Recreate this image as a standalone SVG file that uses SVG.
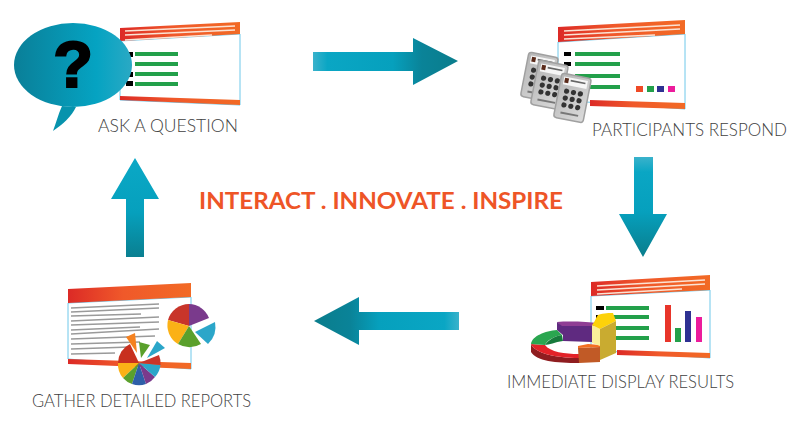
<svg xmlns="http://www.w3.org/2000/svg" width="800" height="428" viewBox="0 0 800 428">
<style>
.lab{font-family:"Lato","Liberation Sans",sans-serif;font-size:18.500px;fill:#3f3f3f;font-weight:300}
.bar{fill:#23a04a}
.k{fill:#000}
.scr{fill:#fff;stroke:#6fc8ea;stroke-width:1}
.ln{fill:none;stroke:#fbe3d4;stroke-width:1.3}
.gl{fill:none;stroke:#9a9a9a;stroke-width:1.4}
</style>
<defs>
<linearGradient id="band"><stop offset="0" stop-color="#dc2a26"/><stop offset="0.45" stop-color="#f0592a"/><stop offset="1" stop-color="#f26a25"/></linearGradient>
<linearGradient id="ar"><stop offset="0" stop-color="#3ab2cb"/><stop offset="0.1" stop-color="#0aa6c4"/><stop offset="0.55" stop-color="#06a0bd"/><stop offset="0.75" stop-color="#0a8398"/><stop offset="1" stop-color="#0a7d8c"/></linearGradient>
<linearGradient id="arL" x1="1" x2="0" y1="0" y2="0"><stop offset="0" stop-color="#3ab2cb"/><stop offset="0.1" stop-color="#0aa6c4"/><stop offset="0.55" stop-color="#06a0bd"/><stop offset="0.75" stop-color="#0a8398"/><stop offset="1" stop-color="#0a7d8c"/></linearGradient>
<linearGradient id="arD" x1="0" x2="0" y1="0" y2="1"><stop offset="0" stop-color="#3ab2cb"/><stop offset="0.15" stop-color="#0aa6c4"/><stop offset="0.55" stop-color="#06a0bd"/><stop offset="1" stop-color="#0a7d8c"/></linearGradient>
<linearGradient id="arU" x1="0" x2="0" y1="0" y2="1"><stop offset="0" stop-color="#0aa8c6"/><stop offset="0.55" stop-color="#06a0bd"/><stop offset="1" stop-color="#0a7f90"/></linearGradient>
<linearGradient id="bub"><stop offset="0" stop-color="#0a7f98"/><stop offset="0.7" stop-color="#05a3c2"/><stop offset="1" stop-color="#2aa9c4"/></linearGradient>
<linearGradient id="cl" x1="0" x2="1" y1="0" y2="1"><stop offset="0" stop-color="#b5b5b5"/><stop offset="1" stop-color="#dcdcdc"/></linearGradient>
<g id="clicker"><rect width="30" height="45" rx="3" fill="url(#cl)" stroke="#a0a0a0" stroke-width="1.5"/><rect x="3" y="3" width="24" height="8" fill="#f6f6f6"/><rect x="4" y="4" width="4" height="5" fill="#5a2a1a"/><rect x="10" y="5" width="15" height="1.6" fill="#666"/><g fill="#333"><circle cx="8" cy="17" r="2.6"/><circle cx="15" cy="17" r="2.6"/><circle cx="22" cy="17" r="2.6"/><circle cx="8" cy="24" r="2.6"/><circle cx="15" cy="24" r="2.6"/><circle cx="22" cy="24" r="2.6"/><circle cx="8" cy="31" r="2.6"/><circle cx="15" cy="31" r="2.6"/><circle cx="22" cy="31" r="2.6"/></g><rect x="6" y="38" width="18" height="2" fill="#777"/></g>
</defs>

<g id="connectors">
<path d="M313 52H413V38L458 61L413 85V71H313Z" fill="url(#ar)"/>
<path d="M634 157V214H619L643 257L667 214H653V157Z" fill="url(#arD)"/>
<path d="M459 312V330H359V345L314 321L359 297V312Z" fill="url(#arL)"/>
<path d="M126 257V199H111L135 158L159 199H144V257Z" fill="url(#arU)"/>
</g>

<g id="node-ask">
<polygon class="scr" points="120,41 240,34 240,105 120,100"/>
<polygon points="120,28 240,22 240,34 120,41" fill="url(#band)"/>
<polygon points="120,96 240,100 240,105 120,100" fill="url(#band)"/>
<path class="ln" d="M125 31L235 26M125 35L235 30M125 40L212 35"/>
<g class="bar"><rect x="135" y="52" width="43" height="4"/><rect x="135" y="62" width="43" height="4"/><rect x="135" y="72" width="43" height="4"/><rect x="135" y="82" width="43" height="4"/></g>
<rect class="k" x="126" y="52" width="7" height="5"/><rect class="k" x="126" y="72" width="7" height="5"/><rect class="k" x="126" y="81" width="7" height="5"/>
<path d="M62 106C58 115 56 123 53 131C62 125 72 116 76 107Z" fill="#0793ad"/>
<ellipse cx="73" cy="65" rx="59" ry="42" fill="url(#bub)"/>
<text x="73" y="87" text-anchor="middle" font-family="'Liberation Sans',sans-serif" font-weight="700" font-size="65" fill="#000" stroke="#000" stroke-width="2.2">?</text>
<text class="lab" x="98" y="132" textLength="140" lengthAdjust="spacingAndGlyphs">ASK A QUESTION</text>
</g>

<g id="node-respond">
<polygon class="scr" points="558,42 685,34 685,109 558,100"/>
<polygon points="558,27 685,20 685,34 558,42" fill="url(#band)"/>
<polygon points="590,100 685,103 685,109 590,106" fill="url(#band)"/>
<path class="ln" d="M564 31L680 25M564 35L680 29M564 39L655 35"/>
<g class="bar"><rect x="575" y="52" width="45" height="4"/><rect x="575" y="62" width="45" height="4"/><rect x="575" y="74" width="45" height="4"/><rect x="575" y="85" width="45" height="4"/></g>
<rect class="k" x="564" y="52" width="7" height="4"/><rect class="k" x="564" y="62" width="7" height="4"/>
<rect x="636" y="86" width="7" height="6" fill="#ef4a26"/><rect x="647" y="86" width="7" height="6" fill="#23a04a"/><rect x="657" y="86" width="7" height="6" fill="#2e3192"/><rect x="668" y="86" width="7" height="6" fill="#ec1c9c"/>
<use href="#clicker" transform="translate(529,52) rotate(11)"/>
<use href="#clicker" transform="translate(539,60) rotate(11)"/>
<use href="#clicker" transform="translate(562,73) rotate(11)"/>
<text class="lab" style="font-size:17.500px" x="592" y="136" textLength="195" lengthAdjust="spacingAndGlyphs">PARTICIPANTS RESPOND</text>
</g>

<g id="node-display">
<polygon class="scr" points="591,296 710,290 710,358 591,350"/>
<polygon points="591,282 710,275 710,290 591,296" fill="url(#band)"/>
<polygon points="617,350 710,353 710,358 617,355" fill="url(#band)"/>
<path class="ln" d="M597 286L705 280M597 290L705 284M597 294L682 289"/>
<g class="bar"><rect x="606" y="306" width="43" height="4"/><rect x="606" y="315" width="43" height="4"/><rect x="606" y="326" width="43" height="4"/><rect x="606" y="336" width="43" height="4"/></g>
<rect class="k" x="596" y="306" width="8" height="4"/><rect class="k" x="596" y="315" width="5" height="5"/>
<rect x="665" y="305" width="6" height="37" fill="#e8352a"/><rect x="675" y="328" width="6" height="14" fill="#23a04a"/><rect x="685" y="311" width="6" height="31" fill="#2e3192"/><rect x="696" y="317" width="6" height="25" fill="#ec1c9c"/>
<path d="M531 344V352C536 361 556 363 579 363V358C555 358 535 353 531 344Z" fill="#8f1d20"/>
<path d="M531 344C535 353 555 358 579 358V354C565 354 550 352 545 345Z" fill="#e32228"/>
<path d="M531 344C532 336 545 331 557 330L562 335C552 337 547 341 545 345Z" fill="#2aa650"/>
<path d="M545 345C548 340 555 336 562 335L563 341C555 342 549 345 545 345Z" fill="#177a3c"/>
<path d="M557 322C570 321 590 322 597 323L592 327H562Z" fill="#8f3d94"/>
<path d="M557 322L562 326H592V342L563 341V335L557 330Z" fill="#5f2a80"/>
<polygon points="578,348 600,347 600,362 579,363" fill="#c15a26"/>
<polygon points="578,348 578,346 588,344 600,345 600,347" fill="#f36f21"/>
<polygon points="592,325 600,329 600,346 592,343" fill="#faef9a"/>
<path d="M592 325C595 322 596 317 598 315C604 313 610 313 613 313L616 321L600 329Z" fill="#fdd20a"/>
<polygon points="600,329 616,321 616,353 600,360" fill="#c9ab30"/>
<text class="lab" x="507" y="388" textLength="227" lengthAdjust="spacingAndGlyphs">IMMEDIATE DISPLAY RESULTS</text>
</g>

<g id="node-reports">
<polygon class="scr" points="68,303 191,297 191,369 68,359"/>
<polygon points="68,289 191,283 191,297 68,303" fill="url(#band)"/>
<polygon points="68,359 191,363 191,369 68,364" fill="url(#band)"/>
<path class="gl" d="M71 308L159 304M71 312L159 308M71 316L141 314M71 321L159 317M71 325L159 322M71 330L140 327M71 334L159 329M71 339L155 336M71 344L140 342M71 349L130 347M71 354L115 353"/>
<path d="M189 326V304A22 22 0 0 0 168 320Z" fill="#c8352a"/>
<path d="M189 326L168 320A22 22 0 0 0 178 344Z" fill="#fbb116"/>
<path d="M189 326L178 344A22 22 0 0 0 201 344Z" fill="#5aa02c"/>
<path d="M189 326V304A22 22 0 0 1 209 318Z" fill="#7a3a8c"/>
<path d="M195 332L215 322A24 24 0 0 1 208 344Z" fill="#2ba6c9"/>
<path d="M139 363L130 344A21 21 0 0 0 118 363Z" fill="#c8301f"/>
<path d="M139 363H118A21 21 0 0 0 123 378Z" fill="#fbb116"/>
<path d="M139 363L123 378A21 21 0 0 0 132 384Z" fill="#5aa02c"/>
<path d="M139 363L132 384A21 21 0 0 0 146 384Z" fill="#2e5fa8"/>
<path d="M139 363L146 384A21 21 0 0 0 155 377Z" fill="#7a3a8c"/>
<path d="M139 363L155 377A21 21 0 0 0 160.500 365Z" fill="#2ba6c9"/>
<path d="M139 363L160.500 365A21 21 0 0 0 159 355Z" fill="#c8352a"/>
<path d="M137 353L126 337L135 333Z" fill="#f58220"/>
<path d="M141 358L139 342L150 345Z" fill="#5aa02c"/>
<path d="M147 358L157 341L165 348Z" fill="#2ba6c9"/>
<text class="lab" x="32" y="407" textLength="219" lengthAdjust="spacingAndGlyphs">GATHER DETAILED REPORTS</text>
</g>

<text x="199" y="209" font-family="'Lato','Liberation Sans',sans-serif" font-weight="700" font-size="23" fill="#ee5527" textLength="364" lengthAdjust="spacingAndGlyphs">INTERACT . INNOVATE . INSPIRE</text>
</svg>
